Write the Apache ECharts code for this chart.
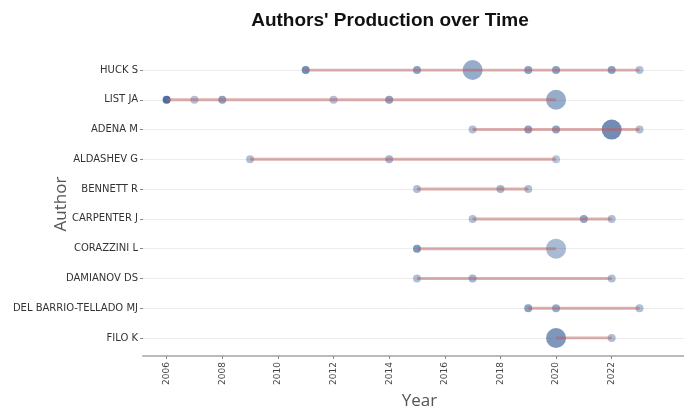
<!DOCTYPE html>
<html>
<head>
<meta charset="utf-8">
<script src="https://cdn.jsdelivr.net/npm/echarts@6/dist/echarts.min.js"></script>
<style>
  html, body { margin: 0; padding: 0; background: #fff; }
  #chart { width: 684px; height: 410px; }
</style>
</head>
<body>
<div id="chart"></div>
<script>
const authors = [
  "HUCK S", "LIST JA", "ADENA M", "ALDASHEV G", "BENNETT R",
  "CARPENTER J", "CORAZZINI L", "DAMIANOV DS", "DEL BARRIO-TELLADO MJ", "FILO K",
];
// publication years per author
const years = [
  [2011, 2015, 2017, 2019, 2020, 2022, 2023],
  [2006, 2007, 2008, 2012, 2014, 2020],
  [2017, 2019, 2020, 2022, 2023],
  [2009, 2014, 2020],
  [2015, 2018, 2019],
  [2017, 2021, 2022],
  [2015, 2020],
  [2015, 2017, 2022],
  [2019, 2020, 2023],
  [2020, 2022],
];
// number of articles (dot size)
const articles = [
  [1, 1, 2, 1, 1, 1, 1],
  [1, 1, 1, 1, 1, 2],
  [1, 1, 1, 2, 1],
  [1, 1, 1],
  [1, 1, 1],
  [1, 1, 1],
  [1, 2],
  [1, 1, 1],
  [1, 1, 1],
  [2, 1],
];
// total citations per year (dot shade), estimated
const tcPerYear = [
  [7, 5, 4, 5, 5, 5, 2],
  [10, 2, 5, 2, 5, 4],
  [2, 5, 5, 7, 2],
  [2, 3, 1.5],
  [2, 3, 2],
  [2, 4.5, 2],
  [6, 2.5],
  [2, 3, 2],
  [5, 4, 2],
  [6, 2],
];
const yearTicks = [2006, 2008, 2010, 2012, 2014, 2016, 2018, 2020, 2022];

const dots = [];
const spans = [];
authors.forEach((a, i) => {
  years[i].forEach((y, j) => {
    dots.push([y, i, tcPerYear[i][j], articles[i][j]]);
  });
  spans.push([Math.min(...years[i]), i]);
  spans.push([Math.max(...years[i]), i]);
  spans.push("-");
});

const myChart = echarts.init(document.getElementById("chart"));
myChart.setOption({
  animation: false,
  title: {
    text: "Authors' Production over Time",
    left: 385,
    top: 6,
    textAlign: "center",
    textStyle: { fontFamily: "Liberation Sans", fontSize: 19, fontWeight: "bold", color: "#111" },
  },
  grid: { left: 143, right: 0, top: 70, bottom: 72, outerBoundsMode: "none" },
  visualMap: {
    show: false,
    type: "continuous",
    seriesIndex: 0,
    dimension: 2,
    min: 0,
    max: 10,
    inRange: { colorAlpha: [0.3, 1] },
  },
  xAxis: {
    type: "value",
    min: 2005.15,
    max: 2024.6,
    offset: 18,
    name: "Year",
    nameLocation: "middle",
    nameGap: 37,
    nameMoveOverlap: false,
    nameTextStyle: { fontFamily: "Open Sans", fontSize: 17, color: "#555", padding: [0, 0, 0, 12] },
    axisLine: { show: true, onZero: false, lineStyle: { color: "#bbb", width: 2 } },
    axisTick: { show: true, customValues: yearTicks, length: 3, lineStyle: { color: "#888" } },
    axisLabel: {
      customValues: yearTicks,
      formatter: (v) => String(v),
      rotate: 90,
      fontFamily: "DejaVu Sans",
      fontSize: 9,
      color: "#444",
      margin: 6,
    },
    splitLine: { show: false },
  },
  yAxis: {
    type: "value",
    inverse: true,
    min: 0,
    max: 9,
    interval: 1,
    name: "Author",
    nameLocation: "middle",
    nameGap: 73,
    nameMoveOverlap: false,
    nameTextStyle: { fontFamily: "Open Sans", fontSize: 17, color: "#555" },
    axisLine: { show: false },
    axisTick: { show: true, length: 3, lineStyle: { color: "#888" } },
    axisLabel: {
      formatter: (v) => authors[v] || "",
      fontFamily: "DejaVu Sans",
      fontSize: 10,
      color: "#333",
      margin: 5,
    },
    splitLine: { show: true, lineStyle: { color: "#ececec", width: 1 } },
  },
  series: [
    {
      type: "scatter",
      data: dots,
      symbolSize: (d) => (d[3] > 1 ? 20 : 8),
      itemStyle: { color: "rgb(30,75,140)" },
      z: 2,
    },
    {
      type: "line",
      data: spans,
      symbol: "none",
      connectNulls: false,
      lineStyle: { color: "rgba(185,95,95,0.5)", width: 3 },
      z: 3,
    },
  ],
});
</script>
</body>
</html>
